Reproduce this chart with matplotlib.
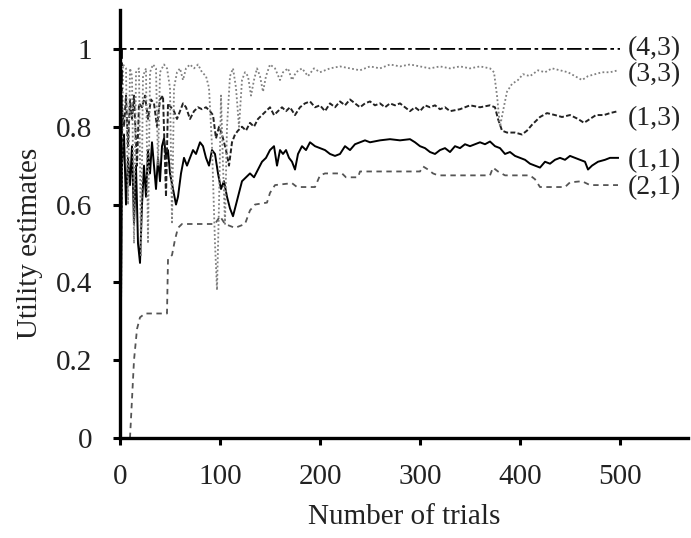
import matplotlib
matplotlib.use("Agg")
import matplotlib.pyplot as plt

plt.rcParams['font.family'] = ['Liberation Serif', 'DejaVu Serif']

# ---- data ----
x43 = [0, 2, 500]
y43 = [0, 1.0, 1.0]

x33 = [0, 3, 6, 8, 10, 12, 14, 16, 19, 21, 23, 26, 28, 30, 33, 36, 38, 40, 44, 47,
       50, 52, 54, 57, 60, 63, 66, 70, 74, 78, 82, 86, 89, 92, 95, 97, 99, 101, 103,
       105, 107, 110, 113, 116, 119, 122, 125, 128, 131, 134, 137, 140, 143, 146,
       150, 155, 160, 163, 168, 172, 176, 182, 188, 194, 200, 210, 220, 230, 240,
       250, 260, 270, 280, 290, 300, 310, 320, 330, 340, 350, 360, 370, 374, 377,
       380, 383, 387, 392, 398, 403, 410, 418, 425, 432, 440, 448, 455, 462, 468,
       475, 482, 490, 498]
y33 = [0, 0.96, 0.95, 0.60, 0.95, 0.93, 0.50, 0.94, 0.95, 0.47, 0.93, 0.95, 0.50,
       0.94, 0.96, 0.95, 0.70, 0.94, 0.96, 0.95, 0.90, 0.55, 0.90, 0.94, 0.95, 0.92,
       0.95, 0.96, 0.95, 0.96, 0.94, 0.93, 0.90, 0.75, 0.50, 0.38, 0.60, 0.88, 0.70,
       0.55, 0.80, 0.93, 0.95, 0.90, 0.80, 0.92, 0.94, 0.93, 0.88, 0.92, 0.95, 0.93,
       0.89, 0.93, 0.96, 0.95, 0.92, 0.94, 0.95, 0.92, 0.94, 0.95, 0.93, 0.95, 0.94,
       0.95, 0.955, 0.95, 0.945, 0.955, 0.95, 0.96, 0.955, 0.96, 0.955, 0.95, 0.955,
       0.95, 0.955, 0.95, 0.955, 0.95, 0.94, 0.88, 0.80, 0.84, 0.89, 0.91, 0.92,
       0.935, 0.93, 0.945, 0.94, 0.95, 0.945, 0.94, 0.93, 0.92, 0.93, 0.935, 0.94,
       0.94, 0.945]

x13 = [0, 2, 4, 6, 8, 10, 12, 14, 17, 19, 22, 25, 28, 31, 34, 37, 40, 43, 46, 48,
       51, 54, 57, 60, 63, 66, 70, 74, 78, 82, 86, 90, 93, 96, 99, 102, 106, 109,
       112, 115, 118, 122, 126, 130, 134, 138, 142, 146, 150, 154, 158, 162, 166,
       170, 175, 180, 185, 190, 195, 200, 205, 210, 215, 220, 225, 230, 235, 240,
       245, 250, 255, 260, 265, 270, 275, 280, 285, 290, 295, 300, 305, 310, 315,
       320, 325, 330, 340, 350, 360, 370, 375, 378, 382, 387, 395, 402, 407, 412,
       420, 427, 435, 442, 450, 458, 464, 470, 476, 484, 490, 498]
y13 = [0, 0.85, 0.80, 0.88, 0.75, 0.87, 0.82, 0.88, 0.70, 0.86, 0.85, 0.88, 0.82,
       0.87, 0.86, 0.80, 0.87, 0.88, 0.62, 0.86, 0.85, 0.84, 0.82, 0.84, 0.86, 0.85,
       0.82, 0.84, 0.85, 0.845, 0.85, 0.84, 0.83, 0.77, 0.80, 0.78, 0.74, 0.70, 0.76,
       0.78, 0.79, 0.80, 0.79, 0.81, 0.80, 0.82, 0.83, 0.84, 0.85, 0.83, 0.84, 0.85,
       0.84, 0.85, 0.83, 0.85, 0.86, 0.865, 0.85, 0.855, 0.84, 0.86, 0.85, 0.865,
       0.855, 0.87, 0.86, 0.85, 0.86, 0.865, 0.855, 0.86, 0.85, 0.86, 0.855, 0.86,
       0.85, 0.84, 0.85, 0.84, 0.855, 0.85, 0.855, 0.845, 0.85, 0.84, 0.845, 0.855,
       0.85, 0.855, 0.85, 0.82, 0.79, 0.785, 0.785, 0.78, 0.79, 0.805, 0.825, 0.835,
       0.83, 0.825, 0.83, 0.82, 0.81, 0.82, 0.83, 0.83, 0.835, 0.84]

x11 = [0, 2, 4, 6, 8, 10, 12, 14, 16, 18, 20, 22, 24, 26, 28, 30, 32, 34, 36, 38,
       40, 42, 44, 46, 48, 50, 53, 56, 58, 61, 64, 67, 70, 73, 76, 80, 83, 86, 89,
       92, 95, 98, 101, 104, 107, 110, 113, 116, 119, 122, 126, 130, 134, 138, 142,
       146, 150, 154, 157, 160, 163, 166, 169, 172, 175, 178, 182, 186, 190, 195,
       200, 205, 210, 215, 220, 225, 230, 235, 240, 245, 250, 260, 270, 280, 290,
       295, 300, 305, 310, 315, 320, 325, 330, 335, 340, 345, 350, 355, 360, 365,
       370, 375, 380, 385, 390, 395, 400, 405, 410, 415, 420, 425, 430, 435, 440,
       445, 450, 455, 460, 465, 468, 472, 478, 485, 490, 498]
y11 = [0, 0.70, 0.78, 0.60, 0.72, 0.65, 0.75, 0.55, 0.70, 0.50, 0.45, 0.60, 0.70,
       0.62, 0.74, 0.68, 0.76, 0.70, 0.64, 0.72, 0.66, 0.75, 0.77, 0.72, 0.74, 0.68,
       0.64, 0.60, 0.62, 0.68, 0.72, 0.70, 0.72, 0.74, 0.73, 0.76, 0.75, 0.72, 0.70,
       0.74, 0.73, 0.68, 0.64, 0.66, 0.62, 0.59, 0.57, 0.60, 0.63, 0.66, 0.67, 0.68,
       0.67, 0.69, 0.71, 0.72, 0.74, 0.75, 0.70, 0.74, 0.73, 0.74, 0.72, 0.71, 0.69,
       0.73, 0.75, 0.74, 0.76, 0.75, 0.745, 0.74, 0.73, 0.725, 0.73, 0.75, 0.74,
       0.755, 0.76, 0.765, 0.76, 0.765, 0.768, 0.765, 0.768, 0.76, 0.75, 0.745,
       0.735, 0.73, 0.74, 0.745, 0.735, 0.75, 0.745, 0.755, 0.75, 0.755, 0.76,
       0.755, 0.762, 0.75, 0.745, 0.73, 0.735, 0.725, 0.72, 0.715, 0.705, 0.70,
       0.695, 0.71, 0.705, 0.715, 0.72, 0.715, 0.725, 0.72, 0.715, 0.71, 0.69,
       0.70, 0.71, 0.715, 0.72, 0.72]

x21 = [0, 10, 12, 14, 17, 20, 25, 47, 48, 52, 55, 58, 62, 95, 100, 105, 115, 125,
       130, 135, 147, 150, 155, 172, 177, 195, 200, 205, 222, 226, 238, 240, 300,
       303, 308, 313, 318, 370, 373, 378, 385, 410, 415, 420, 445, 450, 462, 470, 498]
y21 = [0, 0.0, 0.10, 0.20, 0.28, 0.31, 0.32, 0.32, 0.46, 0.47, 0.51, 0.54, 0.55,
       0.55, 0.57, 0.55, 0.54, 0.55, 0.585, 0.60, 0.605, 0.63, 0.65, 0.655, 0.645,
       0.645, 0.675, 0.68, 0.68, 0.67, 0.67, 0.685, 0.685, 0.698, 0.69, 0.68, 0.675,
       0.675, 0.695, 0.685, 0.675, 0.675, 0.665, 0.645, 0.645, 0.657, 0.66, 0.65, 0.65]

series_labels = ["(4,3)", "(3,3)", "(1,3)", "(1,1)", "(2,1)"]
label_y = [1.0, 0.935, 0.820, 0.714, 0.644]

x_ticks = [0, 100, 200, 300, 400, 500]
y_ticks = [0, 0.2, 0.4, 0.6, 0.8, 1]
y_tick_labels = ["0", "0.2", "0.4", "0.6", "0.8", "1"]

# ---- figure ----
fig = plt.figure(figsize=(6.91, 5.38), dpi=100)
ax = fig.add_axes([120 / 691, 100 / 538, 568 / 691, 428 / 538])

ax.plot(x21, y21, color='#555555', lw=1.3, linestyle=(0, (3, 2.5)))
ax.plot(x11, y11, color='black', lw=1.4, linestyle='-')
ax.plot(x13, y13, color='#222222', lw=1.4, linestyle=(0, (2.5, 1.2)))
ax.plot(x33, y33, color='#808080', lw=1.3, linestyle=(0, (1, 1.3)))
ax.plot(x43, y43, color='black', lw=1.3, linestyle=(0, (8, 2, 2, 2)))

for lab, ly in zip(series_labels, label_y):
    ax.text(508, ly, lab, fontsize=20, va='center', ha='left', color='#222222')

ax.set_xlim(0, 568)
ax.set_ylim(0, 1.10)
ax.set_xticks(x_ticks)
ax.set_yticks(y_ticks)
ax.set_yticklabels(y_tick_labels)
ax.tick_params(axis='both', labelsize=21, length=5, width=2.2,
               direction='out', colors='black', labelcolor='#222222')
ax.tick_params(axis='x', pad=14)
ax.tick_params(axis='y', pad=15)
for s in ['top', 'right']:
    ax.spines[s].set_visible(False)
for s in ['left', 'bottom']:
    ax.spines[s].set_linewidth(2.4)
ax.set_xlabel("Number of trials", fontsize=21, color='#222222', labelpad=10)
ax.set_ylabel("Utility estimates", fontsize=21, color='#222222')
ax.yaxis.set_label_coords(-0.135, 0.5 / 1.10)

fig.savefig("out.png", dpi=100)
